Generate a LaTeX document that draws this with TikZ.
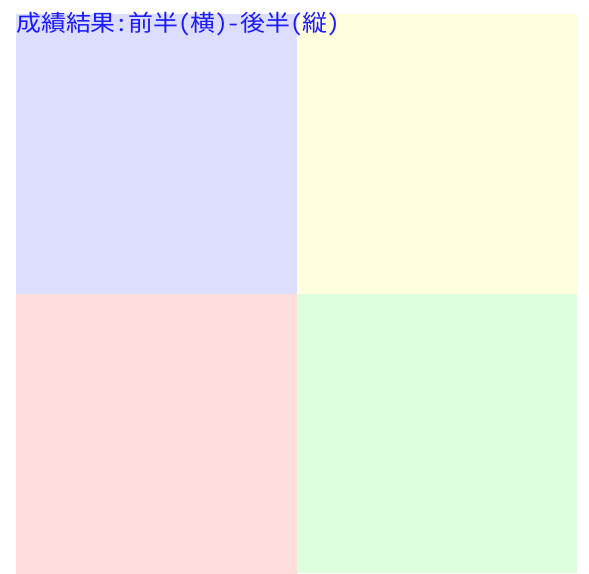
\documentclass[tikz,border=0pt]{standalone}
\usepackage{fontspec}
\newfontfamily\cjk[RawFeature=+hwid]{Noto Sans CJK JP}
\definecolor{qblue}{HTML}{DDDDFF}
\definecolor{qyellow}{HTML}{FFFFDD}
\definecolor{qpink}{HTML}{FFDDDD}
\definecolor{qgreen}{HTML}{DDFFDD}
\definecolor{titleblue}{HTML}{1A1AFF}
\begin{document}
\begin{tikzpicture}[x=1pt,y=-1pt,
  quad/.style={draw=none,minimum width=281pt,minimum height=280pt,inner sep=0pt,outer sep=0pt,anchor=north west},
  titletext/.style={font=\cjk\fontsize{24.9}{27}\selectfont,text=titleblue,inner sep=0pt,anchor=base west}]
\useasboundingbox (0,0) rectangle (589,573);
\node[quad,fill=qblue] (tl) at (16,14) {};
\node[quad,fill=qpink] (bl) at (16,293.5) {};
\node[quad,fill=qyellow,minimum width=280.5pt] (tr) at (296.5,14) {};
\node[quad,fill=qgreen,minimum width=280.5pt,minimum height=279.5pt] (br) at (296.5,293.5) {};
\node[titletext] (title) at (16,31) {\scalebox{1}[0.92]{成績結果:前半(横)-後半(縦)}};
\end{tikzpicture}
\end{document}
